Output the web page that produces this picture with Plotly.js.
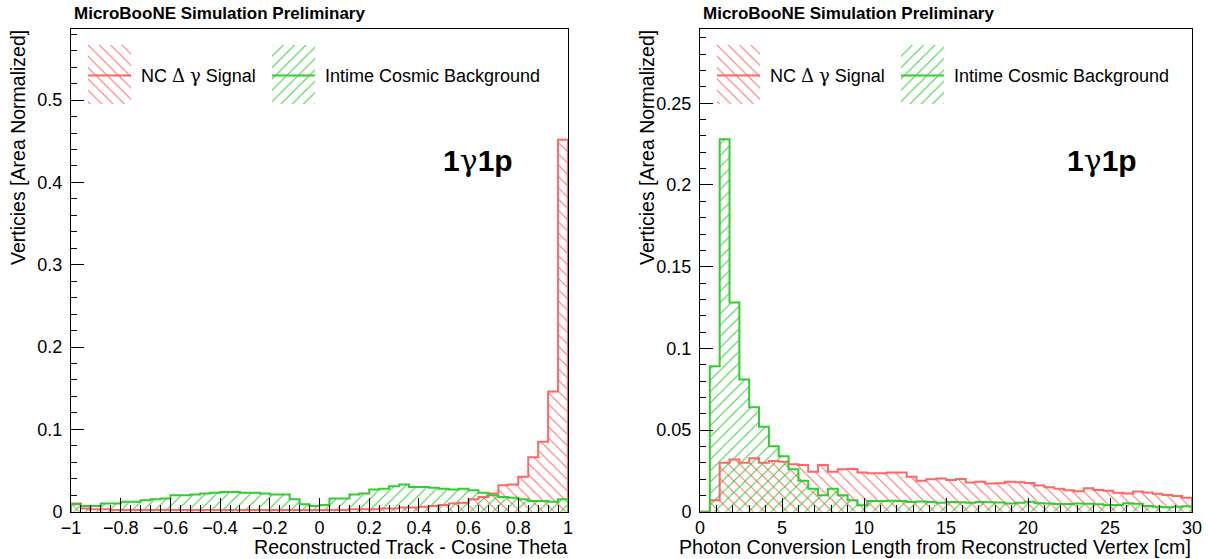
<!DOCTYPE html>
<html>
<head>
<meta charset="utf-8">
<script src="https://cdn.plot.ly/plotly-3.0.1.min.js"></script>
<style>
  html, body { margin: 0; padding: 0; background: #ffffff; }
  #chart { width: 1209px; height: 559px; }
</style>
</head>
<body>
<div id="chart"></div>
<script>
// ---- histogram data (area normalized, 50 bins each) ----
const cosThetaRange = [-1, 1];
const convLengthRange = [0, 30];
const nBins = 50;

const signalCosTheta = [
  0.010, 0.004, 0.003, 0.003, 0.002, 0.002, 0.002, 0.002, 0.002, 0.002,
  0.002, 0.002, 0.002, 0.002, 0.002, 0.002, 0.002, 0.002, 0.002, 0.002,
  0.002, 0.002, 0.002, 0.002, 0.002, 0.002, 0.002, 0.002, 0.003, 0.003,
  0.003, 0.004, 0.004, 0.005, 0.005, 0.006, 0.007, 0.008, 0.010, 0.011,
  0.015, 0.018, 0.022, 0.032, 0.033, 0.0425, 0.066, 0.085, 0.146, 0.452
];
const cosmicCosTheta = [
  0.009, 0.007, 0.007, 0.010, 0.010, 0.012, 0.012, 0.014, 0.015, 0.016,
  0.020, 0.020, 0.021, 0.022, 0.023, 0.024, 0.024, 0.023, 0.023, 0.022,
  0.021, 0.021, 0.015, 0.009, 0.007, 0.008, 0.016, 0.016, 0.021, 0.022,
  0.027, 0.028, 0.031, 0.033, 0.030, 0.030, 0.029, 0.028, 0.027, 0.028,
  0.026, 0.023, 0.020, 0.018, 0.017, 0.015, 0.013, 0.013, 0.012, 0.015
];
const signalConvLength = [
  0.000, 0.007, 0.030, 0.032, 0.030, 0.0327, 0.030, 0.031, 0.0306, 0.029,
  0.0286, 0.0245, 0.0286, 0.0245, 0.026, 0.0262, 0.024, 0.0235, 0.0235, 0.024,
  0.024, 0.0214, 0.019, 0.0198, 0.0204, 0.0194, 0.020, 0.0178, 0.0184, 0.0172,
  0.0174, 0.0184, 0.018, 0.0176, 0.016, 0.015, 0.014, 0.0132, 0.0125, 0.0143,
  0.0133, 0.0128, 0.0116, 0.0112, 0.0123, 0.0118, 0.011, 0.0102, 0.0096, 0.0086
];
const cosmicConvLength = [
  0.000, 0.089, 0.228, 0.128, 0.081, 0.064, 0.052, 0.040, 0.034, 0.026,
  0.019, 0.014, 0.010, 0.014, 0.010, 0.007, 0.004, 0.0065, 0.0065, 0.0067,
  0.0065, 0.006, 0.0062, 0.006, 0.0055, 0.006, 0.0058, 0.0055, 0.006, 0.0058,
  0.0056, 0.005, 0.0055, 0.0061, 0.0052, 0.005, 0.0047, 0.0047, 0.005, 0.0048,
  0.0045, 0.0041, 0.0041, 0.0051, 0.0048, 0.0035, 0.003, 0.0028, 0.003, 0.0034
];

const GREEK = "font-family:'DejaVu Serif',serif;font-weight:normal";
const seriesNames = [
  'NC <span style="' + GREEK + '">\u0394</span> <span style="' + GREEK + '">\u03b3</span> Signal',
  'Intime Cosmic Background'
];
const cosThetaTickVals = [-1, -0.8, -0.6, -0.4, -0.2, 0, 0.2, 0.4, 0.6, 0.8, 1];
const cosThetaTickText = ['\u22121', '\u22120.8', '\u22120.6', '\u22120.4', '\u22120.2', '0', '0.2', '0.4', '0.6', '0.8', '1'];
const cosThetaYTickVals = [0, 0.1, 0.2, 0.3, 0.4, 0.5];
const cosThetaYTickText = ['0', '0.1', '0.2', '0.3', '0.4', '0.5'];
const convTickVals = [0, 5, 10, 15, 20, 25, 30];
const convTickText = ['0', '5', '10', '15', '20', '25', '30'];
const convYTickVals = [0, 0.05, 0.1, 0.15, 0.2, 0.25];
const convYTickText = ['0', '0.05', '0.1', '0.15', '0.2', '0.25'];

const panelTitle = 'MicroBooNE Simulation Preliminary';
const selectionLabel = '<b>1</b><span style="' + GREEK + '">\u03b3</span><b>1p</b>';
const xTitleLeft = 'Reconstructed Track - Cosine Theta';
const xTitleRight = 'Photon Conversion Length from Reconstructed Vertex [cm]';
const yTitle = 'Verticies [Area Normalized]';

// ---- styling / geometry ----
const W = 1209, H = 559;
const RED = '#ff6666';
const GREEN = '#33cc33';
const FONT = 'Liberation Sans, Arial, Helvetica, sans-serif';
const HATCH_SIZE = 8, HATCH_SOLIDITY = 0.12;
const frameTop = 28.5, frameBottom = 511.7;
const leftFrame = [71, 568];
const rightFrame = [700, 1192];
const px = x => x / W;
const py = y => 1 - y / H;

function binEdges(range, n) {
  const w = (range[1] - range[0]) / n;
  const e = [];
  for (let i = 0; i <= n; i++) e.push(range[0] + i * w);
  return e;
}
function binCenters(edges) {
  return edges.slice(0, -1).map((e, i) => (e + edges[i + 1]) / 2);
}
// closed step outline of a histogram
function stepOutline(edges, vals) {
  const xs = [edges[0]], ys = [0];
  for (let i = 0; i < vals.length; i++) { xs.push(edges[i]); ys.push(vals[i]); }
  xs.push(edges[edges.length - 1]); ys.push(vals[vals.length - 1]);
  xs.push(edges[edges.length - 1]); ys.push(0);
  return { x: xs, y: ys };
}
function hatchMarker(color, hatch) {
  return {
    color: color, line: { width: 0 },
    pattern: { shape: hatch, size: HATCH_SIZE, solidity: HATCH_SOLIDITY, fgcolor: color, fillmode: 'replace' }
  };
}

function histTraces(range, vals, color, hatch, xa, ya) {
  const edges = binEdges(range, nBins);
  const w = (range[1] - range[0]) / nBins;
  const bar = {
    type: 'bar', x: binCenters(edges), y: vals, width: w,
    xaxis: xa, yaxis: ya, showlegend: false, hoverinfo: 'skip',
    marker: hatchMarker(color, hatch)
  };
  const o = stepOutline(edges, vals);
  const line = {
    type: 'scatter', mode: 'lines', x: o.x, y: o.y, xaxis: xa, yaxis: ya,
    line: { color: color, width: 2, shape: 'hv' }, showlegend: false, hoverinfo: 'skip'
  };
  return [bar, line];
}

const traces = [
  ...histTraces(cosThetaRange, signalCosTheta, RED, '\\', 'x', 'y'),
  ...histTraces(cosThetaRange, cosmicCosTheta, GREEN, '/', 'x', 'y'),
  ...histTraces(convLengthRange, signalConvLength, RED, '\\', 'x2', 'y2'),
  ...histTraces(convLengthRange, cosmicConvLength, GREEN, '/', 'x2', 'y2')
];

const shapes = [];
const annotations = [];
const legendAxes = {};
let legendAxisId = 3;

// legend entry: hatched swatch on its own hidden axes, a centre line, and a label
function legendEntry(x0, x1, color, hatch, label) {
  const y0 = 45, y1 = 104, ym = 75.5;
  const id = legendAxisId++;
  const hidden = { visible: false, range: [0, 1], fixedrange: true, showgrid: false, zeroline: false };
  legendAxes['xaxis' + id] = Object.assign({}, hidden, { domain: [px(x0), px(x1)], anchor: 'y' + id });
  legendAxes['yaxis' + id] = Object.assign({}, hidden, { domain: [py(y1), py(y0)], anchor: 'x' + id });
  traces.push({
    type: 'bar', x: [0.5], y: [1], width: [1], xaxis: 'x' + id, yaxis: 'y' + id,
    showlegend: false, hoverinfo: 'skip', marker: hatchMarker(color, hatch)
  });
  shapes.push({ type: 'line', xref: 'paper', yref: 'paper', x0: px(x0), x1: px(x1), y0: py(ym), y1: py(ym),
    line: { color: color, width: 2 }, layer: 'above' });
  annotations.push({ xref: 'paper', yref: 'paper', x: px(x1 + 8), y: py(ym), xanchor: 'left', yanchor: 'middle',
    text: label, showarrow: false, font: { family: FONT, size: 18, color: '#000' } });
}

function panelDecor(frame, xTitle) {
  const f0 = frame[0], f1 = frame[1];
  legendEntry(f0 + 17, f0 + 60, RED, '\\', seriesNames[0]);
  legendEntry(f0 + 201, f0 + 244, GREEN, '/', seriesNames[1]);
  annotations.push({ xref: 'paper', yref: 'paper', x: px(f0 + 1), y: py(13), xanchor: 'left', yanchor: 'middle',
    text: '<b>' + panelTitle + '</b>', showarrow: false, font: { family: FONT, size: 17, color: '#000' } });
  annotations.push({ xref: 'paper', yref: 'paper', x: px(f1 + 1), y: py(547), xanchor: 'right', yanchor: 'middle',
    text: xTitle, showarrow: false, font: { family: FONT, size: 19.6, color: '#000' } });
  annotations.push({ xref: 'paper', yref: 'paper', x: px(f0 - 53), y: py(frameTop), xanchor: 'center', yanchor: 'top',
    textangle: -90, text: yTitle, showarrow: false, font: { family: FONT, size: 19.5, color: '#000' } });
  annotations.push({ xref: 'paper', yref: 'paper', x: px(f1 - 90), y: py(160), xanchor: 'center', yanchor: 'middle',
    text: selectionLabel, showarrow: false, font: { family: FONT, size: 30, color: '#000' } });
}
panelDecor(leftFrame, xTitleLeft);
panelDecor(rightFrame, xTitleRight);

const yDomain = [py(frameBottom), py(frameTop)];
const axisCommon = {
  showline: true, mirror: true, linecolor: '#000', linewidth: 1,
  ticks: 'inside', tickcolor: '#000', tickwidth: 1, showgrid: false, zeroline: false,
  tickmode: 'array', tickfont: { family: FONT, size: 18, color: '#000' }, fixedrange: true
};

const layout = Object.assign({
  width: W, height: H, margin: { l: 0, r: 0, t: 0, b: 0 },
  paper_bgcolor: '#fff', plot_bgcolor: 'rgba(0,0,0,0)', barmode: 'overlay', bargap: 0, showlegend: false,
  font: { family: FONT, color: '#000' },
  xaxis: Object.assign({}, axisCommon, {
    domain: [px(leftFrame[0]), px(leftFrame[1])], range: cosThetaRange, anchor: 'y',
    tickvals: cosThetaTickVals, ticktext: cosThetaTickText, ticklen: 14,
    minor: { dtick: 0.04, tick0: -1, ticklen: 7, ticks: 'inside', tickcolor: '#000', showgrid: false }
  }),
  yaxis: Object.assign({}, axisCommon, {
    domain: yDomain, range: [0, 0.587], anchor: 'x',
    tickvals: cosThetaYTickVals, ticktext: cosThetaYTickText, ticklen: 13, ticklabelstandoff: 4,
    minor: { dtick: 0.02, tick0: 0, ticklen: 6, ticks: 'inside', tickcolor: '#000', showgrid: false }
  }),
  xaxis2: Object.assign({}, axisCommon, {
    domain: [px(rightFrame[0]), px(rightFrame[1])], range: convLengthRange, anchor: 'y2',
    tickvals: convTickVals, ticktext: convTickText, ticklen: 14,
    minor: { dtick: 1, tick0: 0, ticklen: 7, ticks: 'inside', tickcolor: '#000', showgrid: false }
  }),
  yaxis2: Object.assign({}, axisCommon, {
    domain: yDomain, range: [0, 0.2958], anchor: 'x2',
    tickvals: convYTickVals, ticktext: convYTickText, ticklen: 13, ticklabelstandoff: 4,
    minor: { dtick: 0.01, tick0: 0, ticklen: 6, ticks: 'inside', tickcolor: '#000', showgrid: false }
  }),
  shapes: shapes,
  annotations: annotations
}, legendAxes);

Plotly.newPlot('chart', traces, layout, { staticPlot: true, displayModeBar: false });
</script>
</body>
</html>
